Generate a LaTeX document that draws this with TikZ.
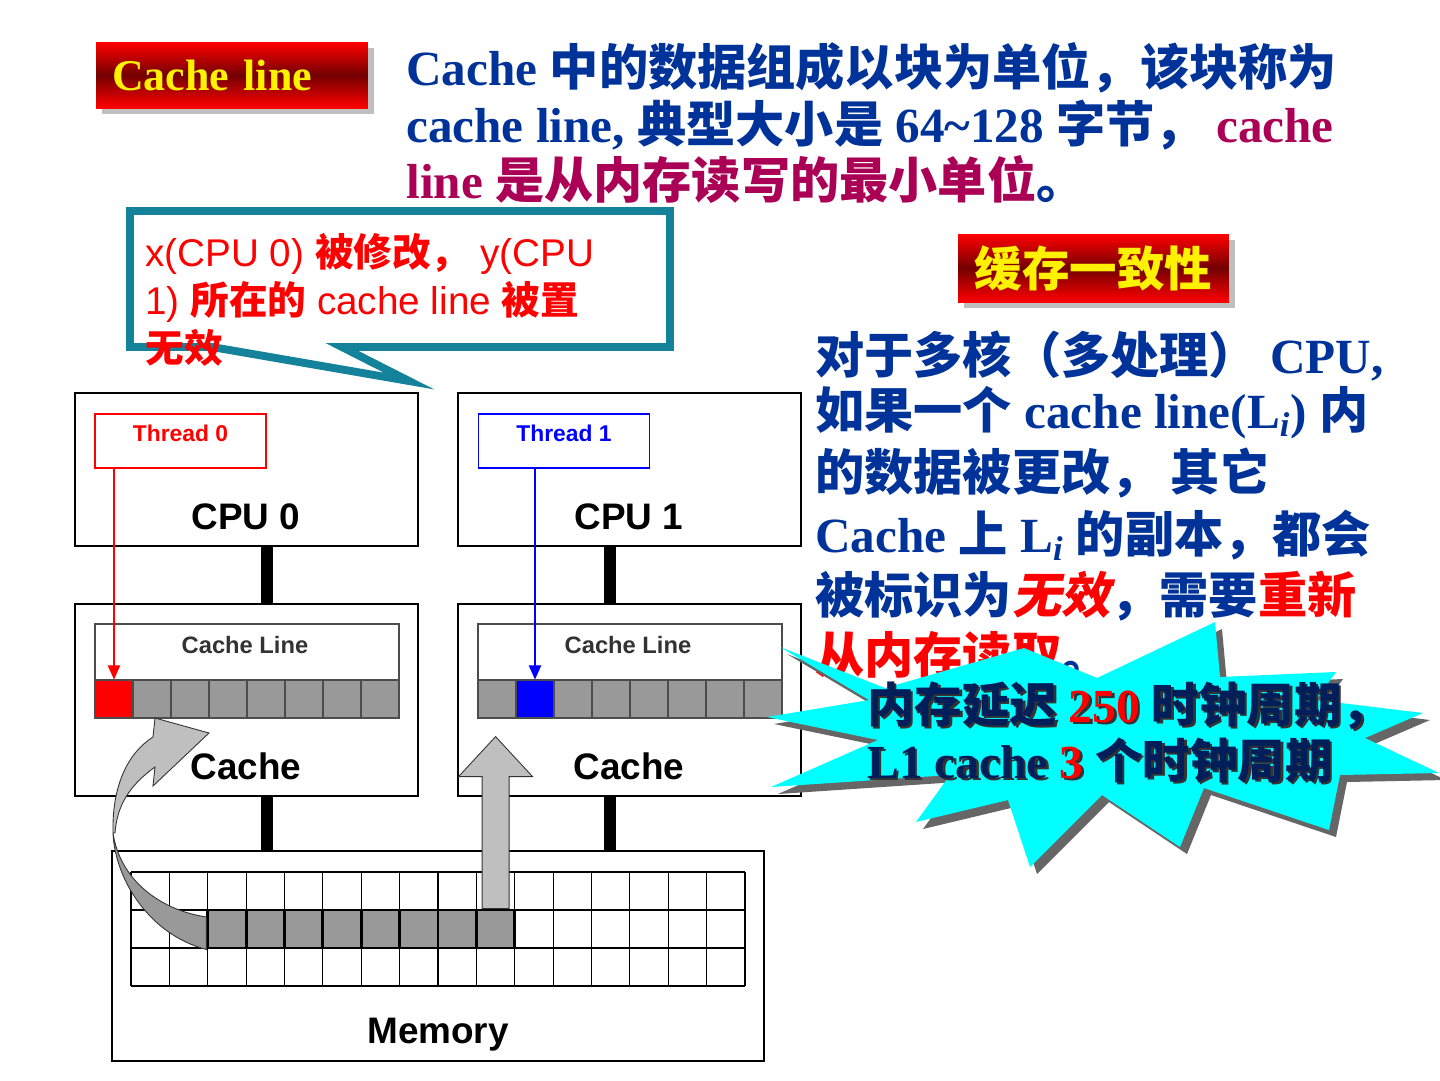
\documentclass[tikz,border=0pt]{standalone}
\usepackage{fontspec}
\setmainfont{Liberation Serif}
\newfontfamily\arialfont{Liberation Sans}
\newfontfamily\cjk{Noto Sans CJK SC}
\newfontfamily\cjkslant{Noto Sans CJK SC}[FakeSlant=0.2]
\usetikzlibrary{arrows.meta,calc,shadows}

\newcommand\zh[1]{{\cjk #1}}
\newcommand\sz[1]{\fontsize{#1}{#1}\selectfont}

\definecolor{navy}{RGB}{0,51,153}
\definecolor{plum}{RGB}{170,0,85}
\definecolor{calloutteal}{RGB}{20,130,155}
\definecolor{burstcyan}{RGB}{0,255,255}
\definecolor{bursttext}{RGB}{0,30,90}
\definecolor{cellgray}{RGB}{153,153,153}

% star outline, pixel coordinates
\newcommand\burstpath{(780,647) -- (885,688) -- (1024,648) -- (1097,678) -- (1215,622) -- (1220,677)
  -- (1336,672) -- (1316,700) -- (1423,713) -- (1365,738) -- (1439,773) -- (1340,775)
  -- (1329,830) -- (1204,788) -- (1180,847) -- (1102,795) -- (1030,867) -- (1008,800)
  -- (916,822) -- (950,775) -- (771,787) -- (878,740) -- (767,717) -- (869,700) -- cycle}

\begin{document}
\begin{tikzpicture}[x=0.02cm, y=-0.02cm,
  banner/.style={text=yellow, top color=red, bottom color=red, middle color=red!45!black,
    drop shadow={fill=black!25, opacity=1, shadow xshift=0.12cm, shadow yshift=-0.12cm}, inner ysep=0},
  para/.style={anchor=base west, inner sep=0, text=navy, font=\bfseries\sz{28}},
  rpara/.style={para, font=\bfseries\sz{28}},
  note/.style={anchor=base west, inner sep=0, text=red, font=\arialfont\sz{22}},
  unit/.style={draw, line width=1.4pt, minimum width=6.86cm, inner sep=0},
  cpubox/.style={unit, minimum height=3.06cm},
  cachebox/.style={unit, minimum height=3.84cm},
  threadbox/.style={draw=#1, text=#1, line width=0.7pt, minimum width=3.42cm, minimum height=1.08cm,
    text depth=0.3cm, font=\arialfont\bfseries\sz{13}},
  linebox/.style={draw=black!70, line width=0.8pt, minimum width=6.08cm, minimum height=1.12cm, inner sep=0},
  cell/.style={draw=black!70, line width=0.6pt, fill=cellgray, minimum size=0.76cm, inner sep=0},
  memcell/.style={draw, line width=1.6pt, fill=cellgray, minimum width=0.7675cm, minimum height=0.76cm, inner sep=0},
  bigtxt/.style={inner sep=0, font=\arialfont\bfseries\sz{21}},
  smalltxt/.style={inner sep=0, text=black!80, font=\arialfont\bfseries\sz{13.5}},
  bus/.style={line width=0.24cm},
  grayarrow/.style={fill=gray!50, draw=black!80, line width=0.5pt},
  bursttxt/.style={anchor=base west, inner sep=0, font=\bfseries\sz{27}},
  >={Triangle[length=8pt,width=7pt]}
]
  \useasboundingbox[fill=white] (0,0) rectangle (1440,1080);

  % headings
  \node[banner, minimum width=5.44cm, minimum height=1.32cm, text width=4.8cm, align=left,
        inner xsep=0.32cm, font=\bfseries\sz{25}] (title) at (232,75) {Cache line};
  \node[banner, minimum width=5.42cm, minimum height=1.36cm, font=\cjk\bfseries\sz{27}] (coh) at (1093.5,268) {缓存一致性};

  \node[para] (p1) at (406,85) {Cache \zh{中的数据组成以块为单位，该块称为}};
  \node[para] (p2) at (406,142) {cache line, \zh{典型大小是} 64\textasciitilde128 \zh{字节，} \textcolor{plum}{cache}};
  \node[para, text=plum] (p3) at (406,198) {line \zh{是从内存读写的最小单位}\textcolor{navy}{\zh{。}}};

  \node[rpara] (r1) at (815,373) {\zh{对于多核（多处理）} CPU,};
  \node[rpara] (r2) at (815,428) {\zh{如果一个} cache line(L\textsubscript{\itshape i}) \zh{内}};
  \node[rpara] (r3) at (815,490) {\zh{的数据被更改， 其它}};
  \node[rpara] (r4) at (815,552) {Cache \zh{上} L\textsubscript{\itshape i} \zh{的副本，都会}};
  \node[rpara] (r5) at (815,613) {\zh{被标识为}\textcolor{red}{\cjkslant 无效}\zh{，需要}\textcolor{red}{\zh{重新}}};
  \node[rpara] (r6) at (815,673) {\textcolor{red}{\zh{从内存读取}}\zh{。}};

  % callout
  \draw[calloutteal, line width=4.5pt, fill=white] (130,211) -- (670,211) -- (670,347) -- (342,347)
    -- (409,381) -- (212,347) -- (130,347) -- cycle;
  \node[note] (c1) at (145,266) {x(CPU 0) \zh{\bfseries 被修改，} y(CPU};
  \node[note] (c2) at (145,314) {1) \zh{\bfseries 所在的} cache line \zh{\bfseries 被置}};
  \node[note] (c3) at (145,362) {\zh{\bfseries 无效}};

  % CPUs and caches
  \node[cpubox] (cpu0) at (246.5,469.5) {};
  \node[cpubox] (cpu1) at (629.5,469.5) {};
  \node[cachebox] (cache0) at (246.5,700) {};
  \node[cachebox] (cache1) at (629.5,700) {};
  \node[threadbox=red] (t0) at (180.5,441) {Thread 0};
  \node[threadbox=blue] (t1) at (564,441) {Thread 1};
  \node[bigtxt] (cpu0t) at (246,517) {CPU 0};
  \node[bigtxt] (cpu1t) at (629,517) {CPU 1};
  \node[linebox] (line0) at (247,652) {};
  \node[linebox] (line1) at (630,652) {};
  \node[smalltxt] (line0t) at (245,645) {Cache Line};
  \node[smalltxt] (line1t) at (628,645) {Cache Line};
  \foreach \i in {1,...,8} {
    \node[cell] (a\i) at (76+38*\i,699) {};
    \node[cell] (b\i) at (459+38*\i,699) {};
  }
  \node[cell, fill=red] (a1) at (114,699) {};
  \node[cell, fill=blue] (b2) at (535,699) {};
  \draw[red, line width=0.6pt, ->] (t0.south -| a1.north) -- (a1.north);
  \draw[blue, line width=0.6pt, ->] (t1.south -| b2.north) -- (b2.north);

  % memory
  \node[unit, minimum width=13.04cm, minimum height=4.2cm] (mem) at (438,956) {};
  \node[bigtxt] (memt) at (438,1035) {Memory};
  \foreach \c in {0,...,16}
    \draw[line width=0.6pt] (131+38.375*\c,872) -- (131+38.375*\c,986);
  \foreach \r in {0,...,3}
    \draw[line width=0.6pt] (131,872+38*\r) -- (745,872+38*\r);
  \draw[line width=1.2pt] (208,910) -- (745,910);
  \foreach \i in {1,...,8}
    \node[memcell] (m\i) at (207.75+38.375*\i-19.19,929) {};

  % buses
  \coordinate (k0) at ($(cache0.south)+(20,0)$);
  \coordinate (k1) at ($(cache1.south)+(-19.5,0)$);
  \draw[bus] ($(cpu0.south)+(20,0)$) -- ($(cache0.north)+(20,0)$);
  \draw[bus] ($(cpu1.south)+(-19.5,0)$) -- ($(cache1.north)+(-19.5,0)$);
  \draw[bus] (k0) -- (k0 |- mem.north);
  \draw[bus] (k1) -- (k1 |- mem.north);

  % loads from memory
  \draw[grayarrow] ($(m8.north)+(-13.5,0)$) -- ++(0,-132) -- ++(-23.5,0) -- ($(m8.north)+(0,-172)$)
    -- ++(37,40) -- ++(-23.5,0) -- ($(m8.north)+(13.5,0)$) -- cycle;
  \draw[grayarrow, fill=cellgray] ($(m1.west)+(0,-12)$) .. controls (160,910) and (120,880) .. (113,833)
    .. controls (115,880) and (150,935) .. (m1.south west) -- cycle;
  \draw[grayarrow] (113,833) .. controls (112,790) and (125,755) .. (153,737) -- (155,718) -- (209,733)
    -- (153,786) -- (155,767) .. controls (130,785) and (117,805) .. (115,833) -- cycle;
  \node[bigtxt] (cache0t) at (246,766) {Cache};
  \node[bigtxt] (cache1t) at (629,766) {Cache};

  % latency burst
  \fill[black!60, shift={(7,7)}] \burstpath;
  \fill[burstcyan] \burstpath;
  \foreach \off/\ca/\cb in {2.5/black!80/black!80, 0/bursttext/red} {
    \node[bursttxt, text=\ca] (s1) at (867+\off,722+\off) {\zh{内存延迟} \textcolor{\cb}{250} \zh{时钟周期，}};
    \node[bursttxt, text=\ca] (s2) at (867+\off,778+\off) {L1 cache \textcolor{\cb}{3} \zh{个时钟周期}};
  }
\end{tikzpicture}
\end{document}
